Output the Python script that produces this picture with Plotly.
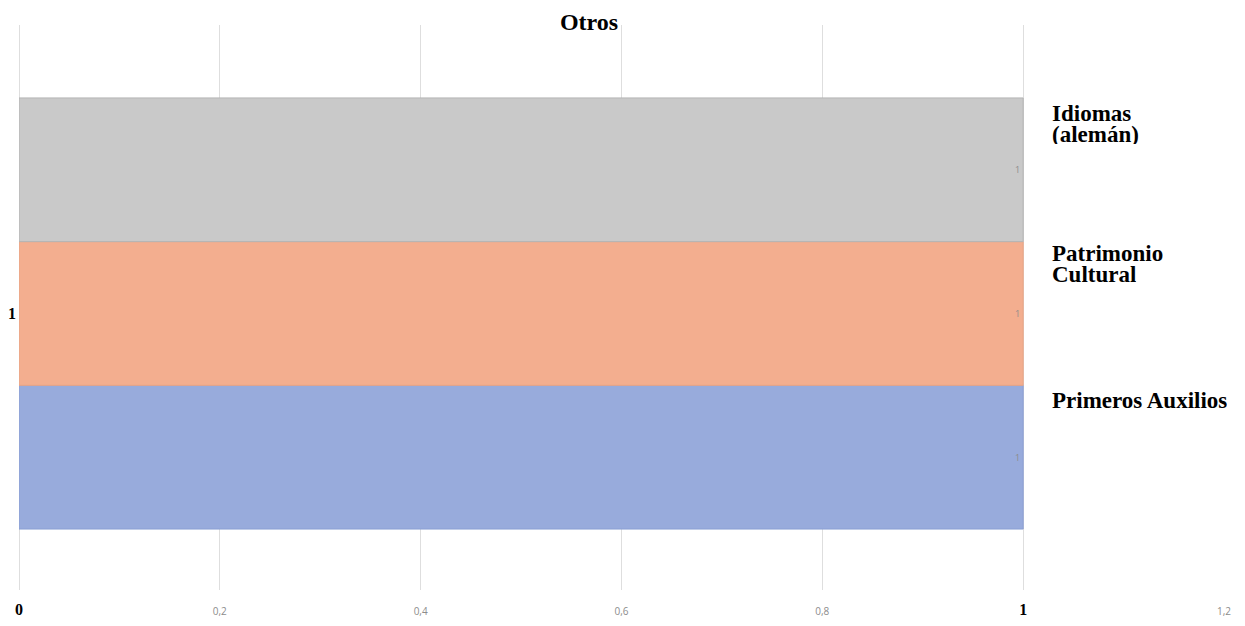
import plotly.graph_objects as go

title = "Otros"
categories = ["1"]
series_names = ["Primeros Auxilios", "Patrimonio Cultural", "Idiomas (alemán)"]
legend_lines = [["Primeros Auxilios"], ["Patrimonio", "Cultural"], ["Idiomas", "(alemán)"]]
series_values = [[1], [1], [1]]
colors = ["#98abdc", "#f3ae8f", "#c9c9c9"]
edge_colors = ["#8a9fd4", "#e8a485", "#b4b4b4"]
tick_vals = [0, 0.2, 0.4, 0.6, 0.8, 1.0, 1.2]
tick_labels = ["0", "0,2", "0,4", "0,6", "0,8", "1", "1,2"]
bold_ticks = ["0", "1"]

fig = go.Figure()
for name, vals, c, ec in zip(series_names, series_values, colors, edge_colors):
    fig.add_trace(go.Bar(
        y=categories, x=vals, name=name, orientation="h",
        marker=dict(color=c, line=dict(color=ec, width=1)),
        text=[str(v) for v in vals], textposition="inside",
        insidetextanchor="end", constraintext="none", textangle=0,
        textfont=dict(family="Open Sans", size=9, color="#8c8c8c"),
        showlegend=False,
    ))

ticktext = []
for t in tick_labels:
    if t in bold_ticks:
        ticktext.append('<span style="font-family:Liberation Serif;font-size:16px;fill:#000"><b>%s</b></span>' % t)
    else:
        ticktext.append(t)

# legend-style labels to the right of each bar (one annotation per text line)
line_centers = [[0.3363], [0.5965, 0.5593], [0.8442, 0.8071]]
for lines, ys in zip(legend_lines, line_centers):
    for ln, yc in zip(lines, ys):
        fig.add_annotation(
            x=0.8564, y=yc, xref="paper", yref="paper",
            xanchor="left", yanchor="middle", align="left", valign="middle",
            showarrow=False, height=20,
            text="<b>%s</b>" % ln, borderpad=0,
            font=dict(family="Liberation Serif", size=23, color="#000"),
        )

fig.update_layout(
    width=1245, height=626,
    paper_bgcolor="white", plot_bgcolor="white",
    margin=dict(l=11, r=29, t=17, b=44, autoexpand=False),
    barmode="group", bargap=0.237,
    title=dict(text="<b>%s</b>" % title, x=0.4667, xanchor="center", y=0.979, yanchor="middle",
               font=dict(family="Liberation Serif", size=24, color="#000")),
    xaxis=dict(range=[0, 1.2], tickvals=tick_vals, ticktext=ticktext,
               showgrid=True, gridcolor="#dedede", gridwidth=1,
               zeroline=True, zerolinecolor="#dedede", zerolinewidth=1,
               showline=False, ticks="", ticklabelstandoff=14,
               tickfont=dict(family="Open Sans", size=10, color="#8c8c8c")),
    yaxis=dict(type="category", range=[-0.4894, 0.5106], showgrid=False, zeroline=False,
               showline=False, ticks="", ticklabelstandoff=2,
               tickfont=dict(family="Liberation Serif", size=16, color="#000"),
               tickprefix="<b>", ticksuffix="</b>"),
)

fig.write_html("out.html")
